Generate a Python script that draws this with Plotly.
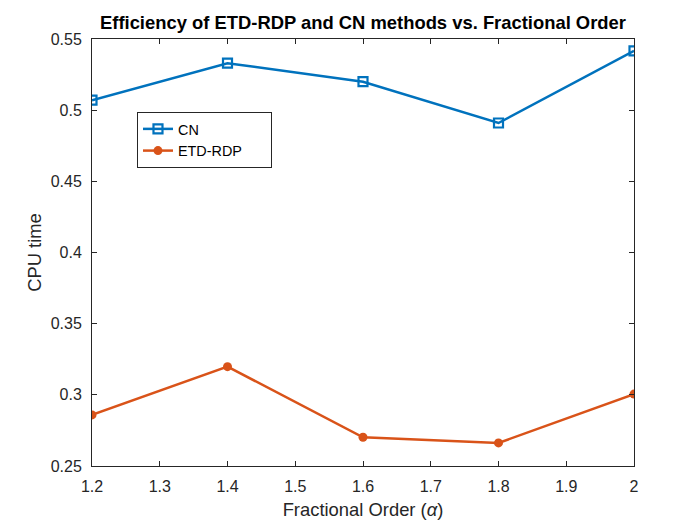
import plotly.graph_objects as go

alpha = [1.2, 1.4, 1.6, 1.8, 2.0]
cn_time = [0.507, 0.533, 0.520, 0.491, 0.5417]
etd_time = [0.2859, 0.3198, 0.2702, 0.2662, 0.3005]
x_ticks = [1.2, 1.3, 1.4, 1.5, 1.6, 1.7, 1.8, 1.9, 2.0]
x_ticklabels = ["1.2", "1.3", "1.4", "1.5", "1.6", "1.7", "1.8", "1.9", "2"]
y_ticks = [0.25, 0.3, 0.35, 0.4, 0.45, 0.5, 0.55]
y_ticklabels = ["0.25", "0.3", "0.35", "0.4", "0.45", "0.5", "0.55"]
series_names = ["CN", "ETD-RDP"]

font = "Liberation Sans, Arial, Helvetica, sans-serif"
pad = "\u00a0" * 6

fig = go.Figure()
fig.add_trace(go.Scatter(
    x=alpha, y=cn_time, mode="lines+markers", name=series_names[0] + pad,
    line=dict(color="#0072BD", width=2.5),
    marker=dict(symbol="square-open", size=9, color="#0072BD", line=dict(width=2.2, color="#0072BD")),
))
fig.add_trace(go.Scatter(
    x=alpha, y=etd_time, mode="lines+markers", name=series_names[1] + pad,
    line=dict(color="#D95319", width=2.5),
    marker=dict(symbol="circle", size=9, color="#D95319"),
))

axis_common = dict(
    showgrid=False, zeroline=False, showline=True, mirror="ticks",
    linecolor="#262626", linewidth=1, ticks="inside", ticklen=5,
    tickcolor="#262626", tickfont=dict(family=font, size=16, color="#262626"),
)

fig.update_layout(
    width=700, height=525,
    margin=dict(l=84, r=74, t=31, b=67),
    paper_bgcolor="white", plot_bgcolor="white",
    font=dict(family=font, color="#262626"),
    title=dict(text="<b>Efficiency of ETD-RDP and CN methods vs. Fractional Order</b>",
               x=355 / 700, xanchor="center", y=1 - 15 / 525, yanchor="middle",
               font=dict(family=font, size=18.4, color="black")),
    xaxis=dict(range=[1.2, 2.0], tickvals=x_ticks, ticktext=x_ticklabels,
               ticklabelstandoff=6,
               title=dict(text="Fractional Order (<i>α</i>)", font=dict(family=font, size=18.4, color="#262626"), standoff=8),
               **axis_common),
    yaxis=dict(range=[0.25, 0.55], tickvals=y_ticks, ticktext=y_ticklabels,
               ticklabelstandoff=6,
               title=dict(text="CPU time", font=dict(family=font, size=18.4, color="#262626"), standoff=4),
               **axis_common),
    legend=dict(x=0.083, y=0.829, xanchor="left", yanchor="top",
                bgcolor="white", bordercolor="#262626", borderwidth=1,
                font=dict(family=font, size=14.4, color="black"),
                tracegroupgap=0),
    showlegend=True,
)

fig.write_html("out.html")
